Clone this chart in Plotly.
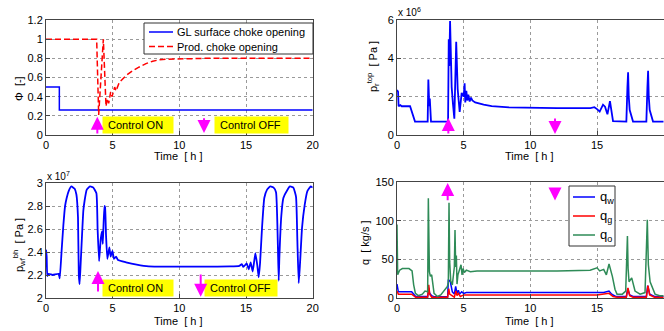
import plotly.graph_objects as go

W, H = 664, 331

# ---------------- data ----------------
time_ticks = [0, 5, 10, 15, 20]

# top-left: choke openings [-]
gl_t = [0, 1.0, 1.0, 20]
gl_v = [0.5, 0.5, 0.26, 0.26]
prod_t = [0, 3.8, 3.95, 4.3, 4.5, 4.6, 4.7, 4.85, 4.95, 5.15, 5.25, 5.5, 6.0, 6.5, 7.0, 7.5, 8.0, 8.5, 9.0, 10.0, 12.0, 20.0]
prod_v = [1.0, 1.0, 0.21, 1.0, 0.30, 0.38, 0.33, 0.45, 0.40, 0.50, 0.46, 0.55, 0.62, 0.67, 0.71, 0.745, 0.77, 0.785, 0.79, 0.795, 0.80, 0.80]

# top-right: riser top pressure [x1e6 Pa]
pr_points = [(0, 2.35), (0.08, 2.26), (0.12, 1.5), (0.25, 1.56), (0.35, 1.5), (0.98, 1.5), (1.35, 0.7),
             (2.3, 0.7), (2.35, 2.9), (2.42, 1.5), (2.46, 1.9), (2.55, 0.7), (3.83, 0.7), (3.88, 5.0),
             (3.92, 3.6), (3.98, 5.95), (4.1, 2.5), (4.2, 1.6), (4.3, 0.85), (4.44, 4.87), (4.55, 2.4),
             (4.7, 1.2), (4.85, 2.2), (5.0, 2.0), (5.07, 2.7), (5.12, 1.7), (5.2, 2.3), (5.27, 1.8),
             (5.35, 2.1), (5.45, 1.75), (5.55, 1.95), (5.65, 1.8), (5.86, 1.7), (6.5, 1.58), (7.1, 1.51),
             (8.4, 1.44), (9.6, 1.42), (12, 1.4), (14.5, 1.4), (14.8, 1.45), (15.0, 1.35), (15.2, 1.22),
             (15.45, 1.58), (15.6, 1.48), (15.78, 1.08), (15.97, 1.77), (16.2, 0.72), (17.2, 0.7),
             (17.28, 2.5), (17.33, 3.27), (17.38, 2.0), (17.45, 1.3), (17.7, 0.7), (18.7, 0.7),
             (18.78, 2.5), (18.83, 3.35), (18.88, 2.0), (18.95, 1.3), (19.2, 0.7), (20, 0.7)]

# bottom-left: bottom-hole pressure [x1e7 Pa]
pwf_points = [(0, 2.42), (0.05, 2.36), (0.1, 2.19), (0.2, 2.21), (0.5, 2.2), (0.95, 2.21), (1.03, 2.17),
              (1.17, 2.41), (1.3, 2.63), (1.43, 2.8), (1.55, 2.87), (1.7, 2.93), (1.9, 2.97), (2.15, 2.95),
              (2.28, 2.9), (2.4, 2.7), (2.46, 2.2), (2.52, 2.12), (2.6, 2.3), (2.8, 2.76), (2.9, 2.85),
              (3.05, 2.94), (3.3, 2.97), (3.55, 2.96), (3.78, 2.91), (3.87, 2.6), (3.98, 2.32), (4.1, 2.51),
              (4.2, 2.58), (4.26, 2.47), (4.38, 2.8), (4.43, 2.79), (4.5, 2.55), (4.6, 2.34), (4.75, 2.44),
              (4.85, 2.36), (4.98, 2.41), (5.1, 2.34), (5.25, 2.36), (5.4, 2.33), (6.0, 2.31), (6.8, 2.29),
              (7.7, 2.275), (13.8, 2.275), (14.5, 2.28), (14.68, 2.295), (14.8, 2.27), (15.05, 2.30),
              (15.2, 2.25), (15.35, 2.31), (15.5, 2.23), (15.7, 2.39), (15.85, 2.28), (15.95, 2.18),
              (16.05, 2.3), (16.2, 2.61), (16.37, 2.87), (16.57, 2.94), (16.82, 2.97), (17.07, 2.96),
              (17.25, 2.92), (17.38, 2.5), (17.45, 2.15), (17.5, 2.35), (17.65, 2.72), (17.8, 2.87),
              (18.1, 2.94), (18.3, 2.97), (18.55, 2.96), (18.75, 2.88), (18.85, 2.5), (18.95, 2.13),
              (19.05, 2.3), (19.2, 2.61), (19.4, 2.81), (19.6, 2.93), (19.85, 2.97), (20, 2.96)]

# bottom-right: mass flow rates [kg/s]
qo_points = [(0, 95), (0.05, 30), (0.2, 36), (0.4, 38), (0.9, 38), (1.13, 35), (1.25, 17), (1.38, 6),
             (1.6, 3), (1.9, 5), (2.1, 9), (2.3, 8), (2.35, 129), (2.43, 34), (2.5, 28), (2.6, 30),
             (2.78, 6), (3.03, 2), (3.28, 4), (3.53, 9), (3.78, 15), (3.85, 20), (3.9, 123), (3.95, 47),
             (4.03, 22), (4.15, 17), (4.3, 40), (4.35, 88), (4.4, 40), (4.45, 55), (4.5, 18), (4.57, 30),
             (4.65, 34), (4.8, 43), (4.88, 30), (4.95, 38), (5.05, 33), (5.2, 36), (5.5, 34), (6, 35),
             (8, 35), (12, 35), (14.48, 36), (14.8, 38), (15.0, 39), (15.2, 35), (15.5, 37), (15.7, 30),
             (15.9, 44), (16.15, 28), (16.35, 11), (16.5, 5), (16.9, 5), (17.15, 9), (17.28, 80),
             (17.33, 38), (17.4, 21), (17.6, 26), (17.85, 9), (18.23, 5), (18.6, 7), (18.77, 101),
             (18.85, 43), (18.98, 21), (19.15, 14), (19.35, 5), (19.7, 3), (20, 3)]
qw_points = [(0, 18), (0.1, 8), (1.1, 8), (1.4, 2), (2.3, 2), (2.38, 13), (2.45, 6), (2.6, 3), (2.8, 1.5),
             (3.8, 1.5), (3.85, 24), (4.0, 21), (4.15, 8), (4.3, 5), (4.4, 15), (4.5, 6), (4.6, 10),
             (4.7, 5), (4.85, 8), (5, 6), (5.2, 7), (15, 7), (15.5, 7), (15.9, 9), (16.1, 5), (16.4, 2),
             (17.2, 2), (17.3, 12), (17.45, 4), (17.7, 2), (18.7, 2), (18.8, 16), (18.95, 5), (19.3, 2), (20, 2)]
qg_points = [(0, 9), (0.1, 5), (1.1, 5), (1.4, 1), (2.3, 1), (2.38, 17), (2.45, 5), (2.6, 1), (3.8, 1),
             (3.88, 12), (3.95, 5), (4.1, 3), (4.3, 1), (4.42, 9), (4.5, 3), (4.6, 6), (4.75, 2), (5, 4),
             (15, 4), (15.9, 6), (16.2, 2), (16.5, 1), (17.2, 1), (17.32, 13), (17.45, 3), (17.7, 1),
             (18.7, 1), (18.82, 16), (18.95, 4), (19.3, 1), (20, 1)]

choke_names = ["GL surface choke opening", "Prod. choke opening"]
q_names = ["q<sub>w</sub>", "q<sub>g</sub>", "q<sub>o</sub>"]

ctrl_on_t, ctrl_off_t = 3.85, 11.85


def unzip(pts):
    return [p[0] for p in pts], [p[1] for p in pts]


FONT = "Liberation Sans, Arial, Helvetica, sans-serif"
BLUE, RED, GREEN, MAG = "#0000ff", "#ff0000", "#2e8b57", "#ff00ff"
RED_DASH = "6px,3px"

fig = go.Figure()

# top-left
fig.add_trace(go.Scatter(x=gl_t, y=gl_v, mode="lines", name=choke_names[0],
                         line=dict(color=BLUE, width=1.5), xaxis="x", yaxis="y", showlegend=False))
fig.add_trace(go.Scatter(x=prod_t, y=prod_v, mode="lines", name=choke_names[1],
                         line=dict(color=RED, width=1.5, dash=RED_DASH), xaxis="x", yaxis="y", showlegend=False))
# top-right
t, v = unzip(pr_points)
fig.add_trace(go.Scatter(x=t, y=v, mode="lines", line=dict(color=BLUE, width=1.8),
                         xaxis="x2", yaxis="y2", showlegend=False))
# bottom-left
t, v = unzip(pwf_points)
fig.add_trace(go.Scatter(x=t, y=v, mode="lines", line=dict(color=BLUE, width=1.8, shape="spline", smoothing=0.4),
                         xaxis="x3", yaxis="y3", showlegend=False))
# bottom-right
q_colors = [BLUE, RED, GREEN]
for pts, nm, col in zip([qw_points, qg_points, qo_points], q_names, q_colors):
    t, v = unzip(pts)
    fig.add_trace(go.Scatter(x=t, y=v, mode="lines", name=nm, line=dict(color=col, width=1.5),
                             xaxis="x4", yaxis="y4", showlegend=False))


def px_x(p):
    return p / W


def px_y(p):
    return 1 - p / H


axis_common = dict(showline=True, mirror=True, linecolor="#444444", linewidth=1, ticks="inside", ticklen=4,
                   tickcolor="#444444", showgrid=True, gridcolor="#9a9a9a", griddash="dot", gridwidth=1,
                   zeroline=False, automargin=False, tickfont=dict(family=FONT, size=11, color="black"))

xl = [px_x(46), px_x(312.7)]
xr = [px_x(397), px_x(663.7)]
yt = [px_y(135), px_y(20)]
yb = [px_y(298), px_y(183)]
yb4 = [px_y(298), px_y(182)]

fig.update_layout(
    width=W, height=H, margin=dict(l=0, r=0, t=0, b=0, autoexpand=False),
    paper_bgcolor="white", plot_bgcolor="white", showlegend=False,
    font=dict(family=FONT, size=11, color="black"),
    xaxis=dict(domain=xl, range=[0, 20], tickvals=time_ticks, anchor="y", **axis_common),
    yaxis=dict(domain=yt, range=[0, 1.2], tickvals=[0, 0.2, 0.4, 0.6, 0.8, 1, 1.2],
               ticktext=["0", "0.2", "0.4", "0.6", "0.8", "1", "1.2"], anchor="x", **axis_common),
    xaxis2=dict(domain=xr, range=[0, 20], tickvals=time_ticks, anchor="y2", **axis_common),
    yaxis2=dict(domain=yt, range=[0, 6], tickvals=[0, 2, 4, 6], anchor="x2", **axis_common),
    xaxis3=dict(domain=xl, range=[0, 20], tickvals=time_ticks, anchor="y3", **axis_common),
    yaxis3=dict(domain=yb, range=[2, 3], tickvals=[2, 2.2, 2.4, 2.6, 2.8, 3],
                ticktext=["2", "2.2", "2.4", "2.6", "2.8", "3"], anchor="x3", **axis_common),
    xaxis4=dict(domain=xr, range=[0, 20], tickvals=time_ticks, anchor="y4", **axis_common),
    yaxis4=dict(domain=yb4, range=[0, 150], tickvals=[0, 50, 100, 150], anchor="x4", **axis_common),
)

ann = []
shapes = []
# axis titles
for cx, cy in [(178, 156), (529, 156), (178, 321), (529, 321)]:
    ann.append(dict(text="Time  [ h ]", x=px_x(cx), y=px_y(cy), xref="paper", yref="paper",
                    showarrow=False, xanchor="center", yanchor="middle", font=dict(size=11)))
for text, cx, cy in [("Φ  [-]", 19, 89), ("p<sub>r</sub><sup>top</sup>  [ Pa ]", 373, 67),
                     ("p<sub>wf</sub><sup>bh</sup>  [ Pa ]", 19, 245), ("q  [ kg/s ]", 365, 242)]:
    ann.append(dict(text=text, x=px_x(cx), y=px_y(cy), xref="paper", yref="paper", textangle=-90,
                    showarrow=False, xanchor="center", yanchor="middle", font=dict(size=11)))
# exponents
ann.append(dict(text="x 10<sup>6</sup>", x=px_x(396), y=px_y(12), xref="paper", yref="paper",
                showarrow=False, xanchor="left", yanchor="middle", font=dict(size=10)))
ann.append(dict(text="x 10<sup>7</sup>", x=px_x(45), y=px_y(176), xref="paper", yref="paper",
                showarrow=False, xanchor="left", yanchor="middle", font=dict(size=10)))

# legend 1 (top-left)
shapes.append(dict(type="rect", xref="paper", yref="paper", x0=px_x(144), x1=px_x(313), y0=px_y(54), y1=px_y(23),
                   line=dict(color="#333333", width=1), fillcolor="white", layer="above"))
for i, (nm, col, dash) in enumerate(zip(choke_names, [BLUE, RED], ["solid", RED_DASH])):
    yy = px_y(32 + 14.5 * i)
    shapes.append(dict(type="line", xref="paper", yref="paper", x0=px_x(149), x1=px_x(173), y0=yy, y1=yy,
                       line=dict(color=col, width=1.5, dash=dash), layer="above"))
    ann.append(dict(text=nm, x=px_x(175), y=yy, xref="paper", yref="paper", showarrow=False,
                    xanchor="left", yanchor="middle", font=dict(size=11)))

# legend 2 (bottom-right)
shapes.append(dict(type="rect", xref="paper", yref="paper", x0=px_x(569), x1=px_x(615), y0=px_y(246), y1=px_y(186),
                   line=dict(color="#333333", width=1), fillcolor="white", layer="above"))
for i, (nm, col) in enumerate(zip(q_names, q_colors)):
    yy = px_y(197 + 19 * i)
    shapes.append(dict(type="line", xref="paper", yref="paper", x0=px_x(573), x1=px_x(595), y0=yy, y1=yy,
                       line=dict(color=col, width=1.5), layer="above"))
    ann.append(dict(text=nm, x=px_x(598), y=yy, xref="paper", yref="paper", showarrow=False,
                    xanchor="left", yanchor="middle", font=dict(size=13)))

# control labels
for xr_, yr_, xx, yy, txt, w in [("x", "y", 4.2, 0.104, "Control ON", 66), ("x", "y", 12.6, 0.104, "Control OFF", 69),
                                  ("x3", "y3", 4.2, 2.087, "Control ON", 66), ("x3", "y3", 11.85, 2.087, "Control OFF", 68)]:
    ann.append(dict(text="&nbsp;" + txt, x=xx, y=yy, xref=xr_, yref=yr_, showarrow=False, xanchor="left",
                    yanchor="middle", bgcolor="#ffff00", width=w, height=12, align="left", borderpad=2,
                    font=dict(size=11)))

# magenta arrows (tail -> head)
for xr_, yr_, xx, tail, head in [("x", "y", ctrl_on_t, 0.0, 0.19), ("x", "y", ctrl_off_t, 0.19, 0.02),
                                  ("x2", "y2", ctrl_on_t, 0.0, 0.89), ("x2", "y2", ctrl_off_t, 0.94, 0.05),
                                  ("x3", "y3", 3.9, 2.043, 2.235), ("x3", "y3", 11.6, 2.217, 2.01),
                                  ("x4", "y4", 3.8, 124.5, 148.7), ("x4", "y4", ctrl_off_t, 138.4, 126.0)]:
    ann.append(dict(text="", x=xx, y=head, ax=xx, ay=tail, xref=xr_, yref=yr_, axref=xr_, ayref=yr_,
                    showarrow=True, arrowhead=2, arrowsize=1.3, arrowwidth=2, arrowcolor=MAG))

fig.update_layout(annotations=ann, shapes=shapes)
fig.write_html("out.html", config={"displayModeBar": False},
               post_script="document.body.style.margin='0';document.body.style.overflow='hidden';")
